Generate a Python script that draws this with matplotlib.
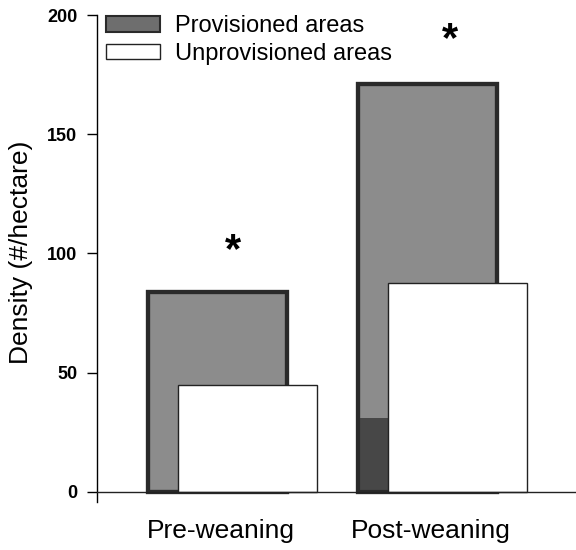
import numpy as np
import matplotlib
matplotlib.use("Agg")
from matplotlib import pyplot as plt
from matplotlib.patches import Patch

plt.rcParams['font.family'] = ['Liberation Sans', 'DejaVu Sans']

categories = ['Pre-weaning', 'Post-weaning']
provisioned = [84, 171]
unprovisioned = [45, 87.5]
dark_base = [0, 31]          # darker lower part of the provisioned bar
star_x = [0.074, 1.107]
star_y = [101, 189.5]
series_names = ['Provisioned areas', 'Unprovisioned areas']

x = np.arange(len(categories))
width = 0.66
offset = 0.143

fig = plt.figure(figsize=(5.76, 5.5), dpi=100)
ax = fig.add_axes([0.168, 0.0873, 0.832, 0.8854])

ax.bar(x, provisioned, width, color='#8c8c8c', edgecolor='#2a2a2a', linewidth=3, zorder=2)
ax.bar(x, dark_base, width, color='#474747', edgecolor='none', zorder=2.5)
ax.bar(x, provisioned, width, color='none', edgecolor='#2a2a2a', linewidth=3, zorder=2.6)
ax.bar(x + offset, unprovisioned, width, color='white', edgecolor='#222222', linewidth=1, zorder=3)

for xs, ys in zip(star_x, star_y):
    ax.text(xs, ys, '*', ha='center', va='center', fontsize=30, fontweight='bold')

ax.axhline(0, color='#222222', linewidth=1, zorder=4)

ax.set_xlim(-0.574, 1.707)
ax.set_ylim(-4.2, 200)
ax.set_yticks([0, 50, 100, 150, 200])
ax.set_xticks(x + 0.015)
ax.set_xticklabels(categories, fontsize=19)
ax.tick_params(axis='x', length=0, pad=12)
ax.tick_params(axis='y', direction='out', length=7, width=1, labelsize=13, pad=7)
for lab in ax.get_yticklabels():
    lab.set_fontweight('bold')

for s in ['top', 'right', 'bottom']:
    ax.spines[s].set_visible(False)
ax.spines['left'].set_linewidth(1)

ax.set_ylabel('Density (#/hectare)', fontsize=19)
ax.yaxis.set_label_coords(-0.134, 0.513)

handles = [Patch(facecolor='#6e6e6e', edgecolor='#2a2a2a', linewidth=1.5),
           Patch(facecolor='white', edgecolor='#222222', linewidth=1)]
ax.legend(handles, series_names, loc='upper left', bbox_to_anchor=(0.02, 1.0),
          frameon=False, fontsize=17, handlelength=2.29, handleheight=0.64,
          handletextpad=0.6, labelspacing=0.24, borderpad=0, borderaxespad=0)

fig.savefig('out.png', dpi=100)
